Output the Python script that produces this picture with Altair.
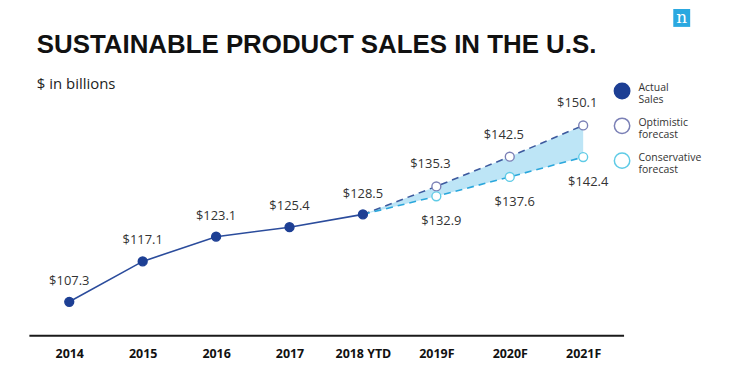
import altair as alt
import pandas as pd

# ---- data ----
years = ["2014", "2015", "2016", "2017", "2018 YTD", "2019F", "2020F", "2021F"]
actual_years = ["2014", "2015", "2016", "2017", "2018 YTD"]
actual_values = [107.3, 117.1, 123.1, 125.4, 128.5]
forecast_years = ["2018 YTD", "2019F", "2020F", "2021F"]
optimistic_values = [128.5, 135.3, 142.5, 150.1]
conservative_values = [128.5, 132.9, 137.6, 142.4]
series_names = ["Actual Sales", "Optimistic forecast", "Conservative forecast"]
title_text = "SUSTAINABLE PRODUCT SALES IN THE U.S."
subtitle_text = "$ in billions"

DARK = "#1d3f94"
LINE = "#2b4c9c"
OPT = "#3d5a9e"
OPT_PT = "#7b80b6"
CONS = "#2aa7dc"
CONS_PT = "#5fcbe6"
BAND = "#bde5f6"

actual_df = pd.DataFrame({"year": actual_years, "value": actual_values})
fc_df = pd.DataFrame({"year": forecast_years, "opt": optimistic_values,
                      "cons": conservative_values})

pts = []
for y, v in zip(actual_years, actual_values):
    pts.append({"year": y, "value": v, "series": series_names[0]})
for y, v in zip(forecast_years[1:], optimistic_values[1:]):
    pts.append({"year": y, "value": v, "series": series_names[1]})
for y, v in zip(forecast_years[1:], conservative_values[1:]):
    pts.append({"year": y, "value": v, "series": series_names[2]})
pts_df = pd.DataFrame(pts)
pts_df["label"] = pts_df["value"].map(lambda v: f"${v:.1f}")

x_enc = alt.X("year:O", sort=years,
              scale=alt.Scale(type="point", domain=years, padding=0.55),
              axis=alt.Axis(title=None, labelAngle=0, ticks=False, grid=False,
                            domainColor="#1a1a1a", domainWidth=2,
                            labelFont="Open Sans", labelFontWeight="bold",
                            labelFontSize=12.5, labelColor="#111",
                            labelPadding=12))
y_scale = alt.Scale(domain=[99.2, 160], nice=False, zero=False)


def Y(field):
    return alt.Y(field, scale=y_scale, axis=None)


leg = alt.Legend(title=None, labelExpr="split(datum.label, ' ')")

band = alt.Chart(fc_df).mark_area(color=BAND, opacity=1).encode(
    x=x_enc, y=Y("opt:Q"), y2="cons:Q")

actual_line = alt.Chart(actual_df).mark_line(color=LINE, strokeWidth=1.6).encode(
    x=x_enc, y=Y("value:Q"))

opt_line = alt.Chart(fc_df).mark_line(color=OPT, strokeWidth=1.6,
                                      strokeDash=[7, 5]).encode(
    x=x_enc, y=Y("opt:Q"))
cons_line = alt.Chart(fc_df).mark_line(color=CONS, strokeWidth=1.6,
                                       strokeDash=[7, 5]).encode(
    x=x_enc, y=Y("cons:Q"))

points = alt.Chart(pts_df).mark_point(shape="circle", size=80, strokeWidth=1.4,
                                      opacity=1, fillOpacity=1).encode(
    x=x_enc, y=Y("value:Q"),
    fill=alt.Fill("series:N", scale=alt.Scale(domain=series_names,
                                              range=[DARK, "white", "white"]),
                  legend=leg),
    stroke=alt.Stroke("series:N", scale=alt.Scale(domain=series_names,
                                                  range=[DARK, OPT_PT, CONS_PT]),
                      legend=leg),
)

lab_common = dict(font="Open Sans", fontSize=13, color="#333")
lab_actual = alt.Chart(pts_df).transform_filter(
    alt.datum.series == series_names[0]).mark_text(dy=-21, **lab_common).encode(
    x=x_enc, y=Y("value:Q"), text="label:N")
lab_opt = alt.Chart(pts_df).transform_filter(
    alt.datum.series == series_names[1]).mark_text(dy=-22, dx=-6, **lab_common).encode(
    x=x_enc, y=Y("value:Q"), text="label:N")
lab_cons = alt.Chart(pts_df).transform_filter(
    alt.datum.series == series_names[2]).mark_text(dy=25, dx=5, **lab_common).encode(
    x=x_enc, y=Y("value:Q"), text="label:N")

head_df = pd.DataFrame({"title": [title_text], "subtitle": [subtitle_text],
                        "logo": ["n"]})
title_mark = alt.Chart(head_df).mark_text(
    font="Liberation Sans", fontSize=26, fontWeight="bold", color="#111",
    align="left", baseline="alphabetic").encode(
    x=alt.value(8), y=alt.value(-32), text="title:N")
subtitle_mark = alt.Chart(head_df).mark_text(
    font="Open Sans", fontSize=15, color="#222", align="left",
    baseline="middle").encode(
    x=alt.value(8), y=alt.value(-1), text="subtitle:N")
logo_box = alt.Chart(head_df).mark_rect(color="#2aa8e0").encode(
    x=alt.value(648), x2=alt.value(665), y=alt.value(-76), y2=alt.value(-58))
logo_txt = alt.Chart(head_df).mark_text(color="white", font="DejaVu Serif",
                                        fontSize=17, baseline="alphabetic").encode(
    x=alt.value(656.5), y=alt.value(-62), text="logo:N")

chart = alt.layer(band, actual_line, opt_line, cons_line, points,
                  lab_actual, lab_opt, lab_cons, title_mark, subtitle_mark,
                  logo_box, logo_txt).properties(
    width=598, height=252,
    padding={"left": 21, "top": 76, "right": 100, "bottom": 30},
    autosize=alt.AutoSizeParams(type="none"),
).configure_view(stroke=None).configure_legend(
    orient="none", legendX=588, legendY=-2, padding=0,
    symbolSize=240, symbolStrokeWidth=1.5, symbolType="circle",
    labelFont="Open Sans", labelFontSize=10.5, labelColor="#333",
    labelOffset=8, rowPadding=8, labelBaseline="alphabetic",
)

chart.save("out.html", embed_options={"renderer": "svg", "actions": False})
